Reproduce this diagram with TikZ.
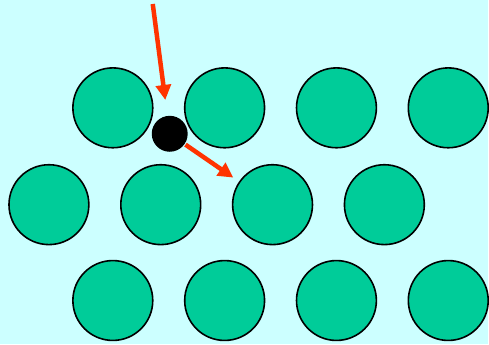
\documentclass[tikz,border=0pt]{standalone}
\usetikzlibrary{arrows.meta}

\definecolor{bgcyan}{HTML}{CCFFFF}
\definecolor{ballgreen}{HTML}{00CC99}
\definecolor{pushred}{HTML}{FF3300}

\tikzset{
  ball/.style={circle, draw=black, line width=1.6pt, fill=ballgreen, inner sep=0pt, minimum size=80pt},
  atom/.style={circle, fill=black, inner sep=0pt, minimum size=36pt},
  push/.style={->, draw=pushred, line width=4.5pt}
}

\begin{document}
\begin{tikzpicture}[x=1pt, y=-1pt, >={Triangle[length=15pt, width=15pt]}]

  % background
  \fill[bgcyan] (0,0) rectangle (489,345);

  % ================= top row =================
  \node[ball] (r1c1) at (113,108) {};
  \node[ball] (r1c2) at (225,108) {};
  \node[ball] (r1c3) at (337,108) {};
  \node[ball] (r1c4) at (449,108) {};

  % ================= middle row =================
  \node[ball] (r2c1) at (49,205) {};
  \node[ball] (r2c2) at (161,205) {};
  \node[ball] (r2c3) at (273,205) {};
  \node[ball] (r2c4) at (385,205) {};

  % ================= bottom row =================
  \node[ball] (r3c1) at (113,301) {};
  \node[ball] (r3c2) at (225,301) {};
  \node[ball] (r3c3) at (337,301) {};
  \node[ball] (r3c4) at (449,301) {};

  % small black atom in the gap
  \node[atom] (dot) at (170,134) {};

  % incoming and outgoing path
  \coordinate (drop) at (153,4);
  \draw[push, shorten >=16pt] (drop) -- (dot);
  \draw[push, shorten <=1pt, shorten >=7pt] (dot) -- (r2c3);

\end{tikzpicture}
\end{document}
